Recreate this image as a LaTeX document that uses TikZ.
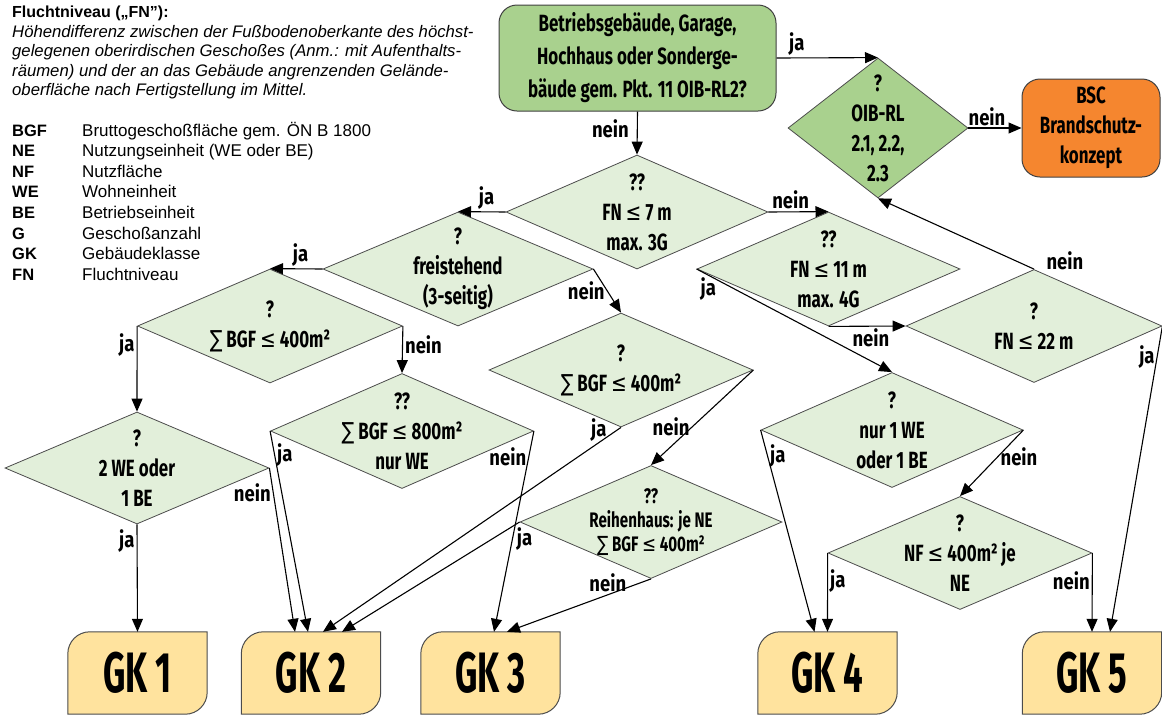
\documentclass[tikz,border=0pt]{standalone}
\usepackage{fontspec}
\setmainfont{Liberation Sans}
\newfontfamily\dinf[FakeStretch=0.72]{Fira Sans}
\newfontfamily\lblf[FakeStretch=0.84]{Fira Sans}
\newfontfamily\gkf[FakeStretch=0.61]{Fira Sans}
\newfontfamily\symf[FakeStretch=0.8]{DejaVu Sans}
\newcommand{\lesym}{{\symf\mdseries ≤}}
\newcommand{\sumsym}{{\symf\mdseries ∑}}
\usetikzlibrary{arrows.meta,shapes.geometric,backgrounds,positioning}
\definecolor{gr1}{HTML}{A9D18E}
\definecolor{gr2}{HTML}{E2EFDA}
\definecolor{or1}{HTML}{F5862F}
\definecolor{ye1}{HTML}{FFE39E}

\begin{document}
\begin{tikzpicture}
[x=1pt,y=1pt,
dia/.style={diamond,draw=black!70,line width=.8pt,fill=gr2,inner sep=0pt,minimum width=262pt,minimum height=114pt},
dtx/.style={font=\dinf\bfseries\fontsize{23.5}{30}\selectfont,align=center},
lbl/.style={font=\lblf\bfseries\fontsize{22}{22}\selectfont,inner sep=2pt},
arr/.style={-{Triangle[length=13pt,width=11pt]},line width=1.1pt},
gkbox/.style={minimum width=139pt,minimum height=82pt,inner sep=0pt,font=\gkf\bfseries\fontsize{57}{57}\selectfont},
gkline/.style={draw=black!70,line width=1pt,fill=ye1},
rbox/.style={rectangle,rounded corners=18pt,draw=black!75,line width=1pt,inner sep=0pt,dtx}]
\useasboundingbox (0,0) rectangle (1162,-716);

%% legend
\node[anchor=base west,inner sep=0pt,font=\bfseries\fontsize{16}{19}\selectfont] (ttl) at (12,-17) {Fluchtniveau („FN"):};
\foreach \ln [count=\i] in {Höhendifferenz zwischen der Fußbodenoberkante des höchst-,
  gelegenen oberirdischen Geschoßes (Anm.: mit Aufenthalts-,
  räumen) und der an das Gebäude angrenzenden Gelände-,
  oberfläche nach Fertigstellung im Mittel.}
\node[anchor=base west,inner sep=0pt,font=\itshape\fontsize{16.7}{19.6}\selectfont] (def\i) at (12,{-37-19.6*(\i-1)}) {\ln};
\foreach \ab/\tx [count=\i] in {BGF/Bruttogeschoßfläche gem. ÖN B 1800,NE/Nutzungseinheit (WE oder BE),
  NF/Nutzfläche,WE/Wohneinheit,BE/Betriebseinheit,G/Geschoßanzahl,GK/Gebäudeklasse,FN/Fluchtniveau}
{
\node[anchor=base west,inner sep=0pt,font=\bfseries\fontsize{16.5}{19}\selectfont] (ab\i) at (12,{-136-20.6*(\i-1)}) {\ab};
\node[anchor=base west,inner sep=0pt,font=\fontsize{17}{19}\selectfont] (tx\i) at (82,{-136-20.6*(\i-1)}) {\tx};
}

%% top
\node[rbox,fill=gr1,minimum width=277pt,minimum height=106pt,font=\dinf\bfseries\fontsize{23.5}{33}\selectfont] (top) at (637.5,-58)
  {Betriebsgebäude, Garage,\\Hochhaus oder Sonderge-\\bäude gem. Pkt. 11 OIB-RL2?};
\node[dia,fill=gr1,minimum width=180pt,minimum height=140pt,label={[dtx]center:{?\\OIB-RL\\2.1, 2.2,\\2.3}}] (oib) at (878,-128) {};
\node[rbox,fill=or1,minimum width=138pt,minimum height=98pt,font=\dinf\bfseries\fontsize{23.5}{30}\selectfont] (bsc) at (1091,-128)
  {BSC\\Brandschutz-\\konzept};

%% diamonds
\node[dia,label={[dtx]center:{??\\FN \lesym{} 7 m\\max. 3G}}] (fn7) at (637,-212) {};
\node[dia,minimum width=270pt,label={[dtx]center:{?\\freistehend\\(3-seitig)}}] (frei) at (458,-269) {};
\node[dia,minimum width=265pt,label={[dtx]center:{?\\\sumsym{} BGF \lesym{} 400m²}}] (bgfa) at (270,-326) {};
\node[dia,minimum width=264pt,minimum height=112pt,label={[dtx]center:{?\\2 WE oder\\1 BE}}] (two) at (137,-468) {};
\node[dia,minimum width=263pt,minimum height=115pt,label={[dtx]center:{??\\\sumsym{} BGF \lesym{} 800m²\\nur WE}}] (bgfc) at (402,-431) {};
\node[dia,minimum width=264pt,label={[dtx]center:{?\\\sumsym{} BGF \lesym{} 400m²}}] (bgfb) at (621,-370) {};
\node[dia,minimum height=113pt,label={[dtx,font=\dinf\bfseries\fontsize{21}{24}\selectfont]center:{??\\Reihenhaus: je NE\\\sumsym{} BGF \lesym{} 400m²}}] (reih) at (651,-522) {};
\node[dia,minimum width=263pt,label={[dtx]center:{??\\FN \lesym{} 11 m\\max. 4G}}] (fn11) at (828.5,-269) {};
\node[dia,minimum width=256pt,minimum height=113pt,label={[dtx]center:{?\\FN \lesym{} 22 m}}] (fn22) at (1034,-326) {};
\node[dia,minimum height=115pt,label={[dtx]center:{?\\nur 1 WE\\oder 1 BE}}] (nur1) at (892,-430) {};
\node[dia,minimum width=264pt,minimum height=113pt,label={[dtx]center:{?\\NF \lesym{} 400m² je\\NE}}] (nf) at (960,-553) {};

%% classes
\node[gkbox] (gk1) at (137.5,-673) {GK 1};
\node[gkbox] (gk2) at (311,-673) {GK 2};
\node[gkbox] (gk3) at (490.5,-673) {GK 3};
\node[gkbox] (gk4) at (827.5,-673) {GK 4};
\node[gkbox] (gk5) at (1092,-673) {GK 5};
\begin{scope}[on background layer]
\foreach \g in {gk1,gk2,gk3,gk4,gk5}
  \draw[gkline] (\g.south west) -- ([yshift=-22pt]\g.north west) arc[start angle=180,end angle=90,radius=22pt]
    -- (\g.north east) -- ([yshift=22pt]\g.south east) arc[start angle=0,end angle=-90,radius=22pt] -- cycle;
\end{scope}

%% arrows
\draw[arr] (top.east) -- node[lbl,pos=.2,above] (l1) {ja} (oib.north);
\draw[arr] (top.south) -- node[lbl,pos=.4,left,xshift=-6pt] (l2) {nein} (fn7.north);
\draw[arr] (oib.east) -- node[lbl,pos=.35,above] (l3) {nein} (bsc.west);
\draw[arr] (fn7.west) -- node[lbl,pos=.4,above] (l4) {ja} (frei.north);
\draw[arr] (fn7.east) -- node[lbl,pos=.37,above] (l5) {nein} (fn11.north);
\draw[arr] (frei.west) -- node[lbl,pos=.42,above] (l6) {ja} (bgfa.north);
\draw[arr] (frei.east) -- node[lbl,pos=.5,left] (l7) {nein} (bgfb.north);
\draw[arr] (bgfa.west) -- node[lbl,pos=.22,left] (l8) {ja} (two.north);
\draw[arr] (bgfa.east) -- node[lbl,pos=.4,right] (l9) {nein} (bgfc.north);
\draw[arr] (two.south) -- node[lbl,pos=.15,left] (l10) {ja} (gk1.north);
\draw[arr] (two.east) -- node[lbl,pos=.15,left] (l11) {nein} ([xshift=-16pt]gk2.north);
\draw[arr] (bgfc.west) -- node[lbl,pos=.12,right] (l12) {ja} ([xshift=-3pt]gk2.north);
\draw[arr] (bgfc.east) -- node[lbl,pos=.13,left] (l13) {nein} ([xshift=3.5pt]gk3.north);
\draw[arr] (bgfb.south) -- node[lbl,pos=.04,left,yshift=6pt] (l14) {ja} ([xshift=12pt]gk2.north);
\draw[arr] (bgfb.east) -- node[lbl,pos=.6,left] (l15) {nein} (reih.north);
\draw[arr] (reih.west) -- node[lbl,pos=.03,below right] (l16) {ja} ([xshift=31pt]gk2.north);
\draw[arr] (reih.south) -- node[lbl,pos=.3,above] (l17) {nein} ([xshift=16.5pt]gk3.north);
\draw[arr] (fn11.west) -- node[lbl,pos=.06,below] (l18) {ja} (nur1.north);
\draw[arr] (fn11.south) -- node[lbl,pos=.55,below] (l19) {nein} (fn22.west);
\draw[arr] (fn22.north) -- node[lbl,pos=0,right,xshift=10pt,yshift=8pt] (l20) {nein} (oib.south);
\draw[arr] (fn22.east) -- node[lbl,pos=.1,left] (l21) {ja} ([xshift=18pt]gk5.north);
\draw[arr] (nur1.west) -- node[lbl,pos=.13,right] (l22) {ja} ([xshift=-13pt]gk4.north);
\draw[arr] (nur1.east) -- node[lbl,pos=.4,right] (l23) {nein} (nf.north);
\draw[arr] (nf.west) -- node[lbl,pos=.35,right] (l24) {ja} (gk4.north);
\draw[arr] (nf.east) -- node[lbl,pos=.35,left] (l25) {nein} (gk5.north);
\end{tikzpicture}
\end{document}
